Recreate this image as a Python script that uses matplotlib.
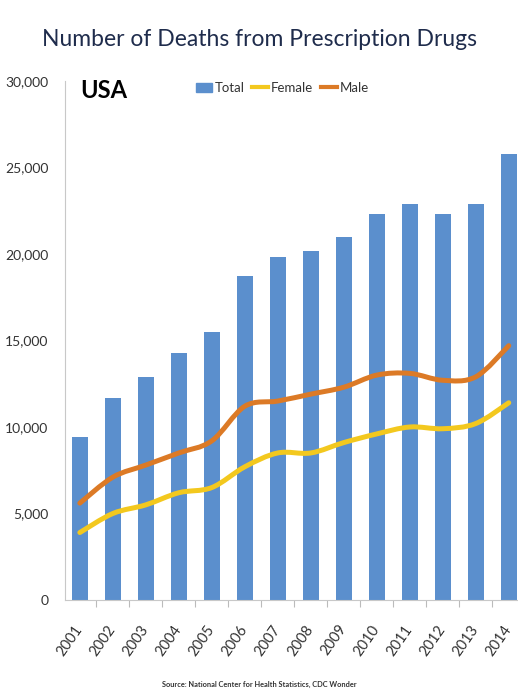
import numpy as np
import matplotlib
matplotlib.use("Agg")
import matplotlib.pyplot as plt
from matplotlib.path import Path
from matplotlib.patches import PathPatch, Patch
from matplotlib.lines import Line2D
from matplotlib.ticker import FuncFormatter, FixedLocator

#### DATA ####
years = ["2001", "2002", "2003", "2004", "2005", "2006", "2007",
         "2008", "2009", "2010", "2011", "2012", "2013", "2014"]
total = [9400, 11700, 12900, 14300, 15500, 18700, 19800,
         20200, 21000, 22300, 22900, 22300, 22900, 25800]
female = [3900, 5000, 5500, 6200, 6500, 7700, 8500,
          8500, 9100, 9600, 10000, 9900, 10200, 11400]
male = [5600, 7100, 7800, 8500, 9200, 11200, 11500,
        11900, 12300, 13000, 13100, 12700, 12900, 14700]

#### STYLE ####
plt.rcParams['font.family'] = ['Lato', 'DejaVu Sans']
c_bar = '#5b8fcd'
c_fem = '#f3c81e'
c_male = '#dc7a26'
c_text = '#333333'


## smooth line through points (Excel style bezier)
def smoothPath(xs, ys):
    p = np.column_stack([xs, ys]).astype(float)
    n = len(p)
    verts = [p[0]]
    codes = [Path.MOVETO]
    for i in range(n - 1):
        p0 = p[i - 1] if i > 0 else p[i]
        p3 = p[i + 2] if i + 2 < n else p[i + 1]
        c1 = p[i] + (p[i + 1] - p0) / 6.0
        c2 = p[i + 1] - (p3 - p[i]) / 6.0
        verts += [c1, c2, p[i + 1]]
        codes += [Path.CURVE4] * 3
    return Path(verts, codes)


fig = plt.figure(figsize=(5.18, 7.0), dpi=100)
ax = fig.add_axes([65 / 518, 1 - 600 / 700, 453 / 518, (600 - 81) / 700])

x = np.arange(len(years))
ax.bar(x, total, width=0.5, color=c_bar, zorder=2)

for vals, col in [(female, c_fem), (male, c_male)]:
    ax.add_patch(PathPatch(smoothPath(x, vals), facecolor='none', edgecolor=col,
                           lw=3.6, capstyle='round', joinstyle='round', zorder=3))

ax.set_xlim(-0.45, 13.28)
ax.set_ylim(0, 30000)
ax.set_yticks(np.arange(0, 30001, 5000))
ax.yaxis.set_major_formatter(FuncFormatter(lambda v, p: f"{int(v):,}"))
ax.tick_params(axis='y', length=0, pad=12, labelsize=10, labelcolor=c_text)

ax.set_xticks(x)
ax.set_xticklabels(years, rotation=55, fontsize=10.5, color=c_text,
                   rotation_mode='anchor')
for lab in ax.get_xticklabels():
    lab.set_ha('right')
    lab.set_va('center')
ax.tick_params(axis='x', length=0, pad=19)
ax.xaxis.set_minor_locator(FixedLocator(np.arange(-0.5, 13.6, 1.0)))
ax.tick_params(axis='x', which='minor', length=5, color='#bbbbbb', width=0.8)

for s in ['top', 'right']:
    ax.spines[s].set_visible(False)
ax.spines['left'].set_color('#c8c8c8')
ax.spines['bottom'].set_color('#c8c8c8')

fig.text(0.5, 1 - 39 / 700, "Number of Deaths from Prescription Drugs", ha='center',
         va='center', fontsize=16.5, color='#1f2c4c')
fig.text(80 / 518, 1 - 90 / 700, "USA", ha='left', va='center', fontsize=17,
         fontweight='bold', color='black')

handles = [Patch(color=c_bar), Line2D([], [], color=c_fem, lw=3),
           Line2D([], [], color=c_male, lw=3)]
fig.legend(handles, ["Total", "Female", "Male"], loc='center left',
           bbox_to_anchor=(184 / 518, 1 - 88 / 700), ncol=3, frameon=False,
           fontsize=9.5, handlelength=1.2, handletextpad=0.2, columnspacing=0.6,
           labelcolor=c_text)

fig.text(0.5, 1 - 684 / 700, "Source: National Center for Health Statistics, CDC Wonder",
         ha='center', va='center', fontsize=5.3, fontweight='bold', color=c_text)

fig.savefig("out.png", dpi=100)
